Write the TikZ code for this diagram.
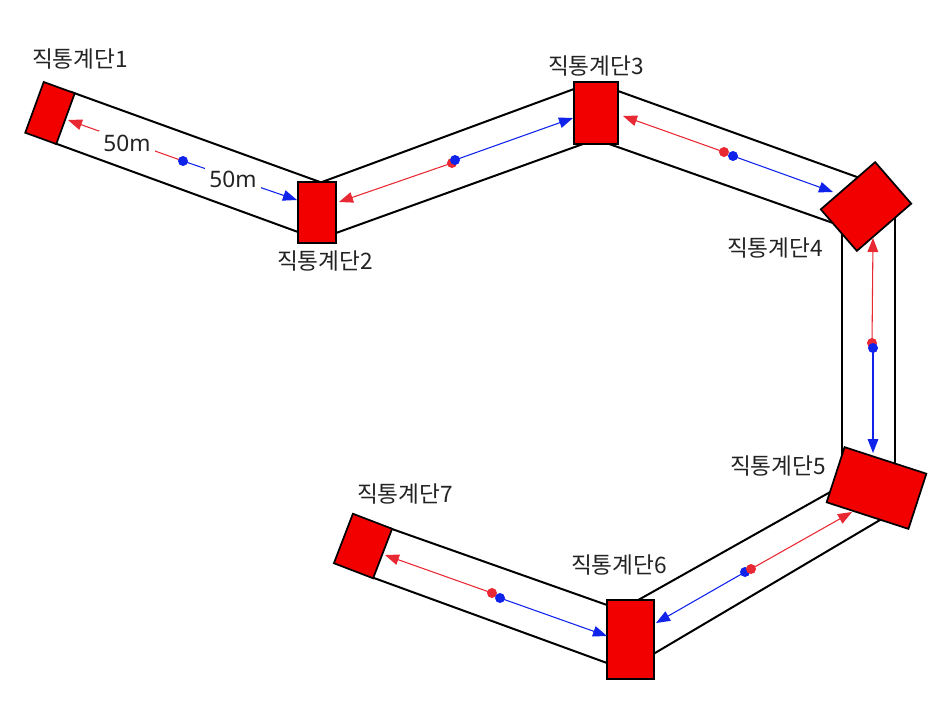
\documentclass[tikz,border=0pt]{standalone}
\usepackage{fontspec}
\setmainfont{Noto Sans CJK KR}
\newfontfamily\latinfont{Noto Sans}
\usetikzlibrary{arrows.meta}
\definecolor{boxred}{RGB}{242,0,0}
\definecolor{arrred}{RGB}{232,40,50}
\definecolor{arrblue}{RGB}{15,35,235}
\definecolor{txt}{RGB}{35,35,35}
\tikzset{
  stairbox/.style n args={3}{draw=black, line width=1.3pt, fill=boxred, inner sep=0pt,
     minimum width=#1*0.75pt, minimum height=#2*0.75pt, rotate=#3},
  wall/.style={draw=black, line width=1.5pt, shorten <=-3pt, shorten >=-3pt},
  redarrow/.style={draw=arrred, line width=0.8pt, -{Triangle[length=10.5pt,width=8pt]}},
  bluearrow/.style={draw=arrblue, line width=0.8pt, -{Triangle[length=10.5pt,width=8pt]}},
  reddot/.style={circle, fill=arrred, inner sep=0pt, minimum size=7.5pt},
  bluedot/.style={circle, fill=arrblue, inner sep=0pt, minimum size=7.5pt},
  lbl/.style={text=txt, font=\fontsize{17}{20}\selectfont, inner sep=1pt},
  dist/.style={text=txt, font=\latinfont\fontsize{17}{20}\selectfont, fill=white, inner sep=3pt}
}
\begin{document}
\begin{tikzpicture}[x=0.75pt, y=-0.75pt]
\useasboundingbox (0,0) rectangle (952,714);
% corridor walls
\coordinate (w12a) at (74,93);   \coordinate (w12b) at (320,182);
\coordinate (w12c) at (57,144);  \coordinate (w12d) at (298,232);
\coordinate (w23a) at (322,182); \coordinate (w23b) at (574,89);
\coordinate (w23c) at (336,233); \coordinate (w23d) at (583,144);
\coordinate (w34a) at (618,91);  \coordinate (w34b) at (857,177);
\coordinate (w34c) at (612,145); \coordinate (w34d) at (833,223);
\coordinate (w45a) at (842,234); \coordinate (w45b) at (842,466);
\coordinate (w45c) at (895,218); \coordinate (w45d) at (895,464);
\coordinate (w56a) at (832,491); \coordinate (w56b) at (640,599);
\coordinate (w56c) at (880,520); \coordinate (w56d) at (655,653);
\coordinate (w67a) at (392,529); \coordinate (w67b) at (607,605);
\coordinate (w67c) at (374,578); \coordinate (w67d) at (607,663);
\foreach \s in {12,23,34,45,56,67}{
  \draw[wall] (w\s a) -- (w\s b);
  \draw[wall] (w\s c) -- (w\s d);
}
% stair boxes
\node[stairbox={33}{54}{-20}] (s1) at (50,113) {};
\node[stairbox={38}{61}{0}]   (s2) at (317,212.5) {};
\node[stairbox={44}{62}{0}]   (s3) at (596,113) {};
\node[stairbox={72}{55}{41}]  (s4) at (866,206.5) {};
\node[stairbox={86}{58}{-18}] (s5) at (876.5,488) {};
\node[stairbox={47}{79}{0}]   (s6) at (630.5,639.5) {};
\node[stairbox={42}{53}{-21}] (s7) at (363,546) {};
% labels
\node[lbl] (l1) at (80,59) {직통계단1};
\node[lbl] (l2) at (325,261) {직통계단2};
\node[lbl] (l3) at (596,66) {직통계단3};
\node[lbl] (l4) at (775,248) {직통계단4};
\node[lbl] (l5) at (778,466) {직통계단5};
\node[lbl] (l6) at (619,565) {직통계단6};
\node[lbl] (l7) at (405,494) {직통계단7};
% arrow tips
\coordinate (t12r) at (68,120);  \coordinate (t12b) at (297,200);
\coordinate (t23r) at (339,202); \coordinate (t23b) at (573,118);
\coordinate (t34r) at (623,116); \coordinate (t34b) at (833,192);
\coordinate (t45r) at (873,238); \coordinate (t45b) at (873,453);
\coordinate (t56r) at (852,512); \coordinate (t56b) at (656,623);
\coordinate (t67r) at (385,555); \coordinate (t67b) at (607,636);
% dot centres
\coordinate (c12b) at (183,161);
\coordinate (c23r) at (452,163); \coordinate (c23b) at (455,160);
\coordinate (c34r) at (724,152); \coordinate (c34b) at (733,156);
\coordinate (c45r) at (872,343); \coordinate (c45b) at (873,348);
\coordinate (c56r) at (751,569); \coordinate (c56b) at (745,572);
\coordinate (c67r) at (492,593); \coordinate (c67b) at (500,598);
% arrows
\draw[redarrow] (c12b) -- (t12r);
\draw[bluearrow] (c12b) -- (t12b);
\node[dist] (d1) at (127,143) {50m};
\node[dist] (d2) at (233,179) {50m};
\draw[redarrow] (c23r) -- (t23r);
\draw[bluearrow] (c23b) -- (t23b);
\draw[redarrow] (c34r) -- (t34r);
\draw[bluearrow] (c34b) -- (t34b);
\draw[redarrow] (c45r) -- (t45r);
\draw[bluearrow] (c45b) -- (t45b);
\draw[redarrow] (c56r) -- (t56r);
\draw[bluearrow] (c56b) -- (t56b);
\draw[redarrow] (c67r) -- (t67r);
\draw[bluearrow] (c67b) -- (t67b);
% dots
\node[bluedot] (p12b) at (c12b) {};
\node[reddot]  (p23r) at (c23r) {};
\node[bluedot] (p23b) at (c23b) {};
\node[reddot]  (p34r) at (c34r) {};
\node[bluedot] (p34b) at (c34b) {};
\node[reddot]  (p45r) at (c45r) {};
\node[bluedot] (p45b) at (c45b) {};
\node[bluedot] (p56b) at (c56b) {};
\node[reddot]  (p56r) at (c56r) {};
\node[reddot]  (p67r) at (c67r) {};
\node[bluedot] (p67b) at (c67b) {};
\end{tikzpicture}
\end{document}
